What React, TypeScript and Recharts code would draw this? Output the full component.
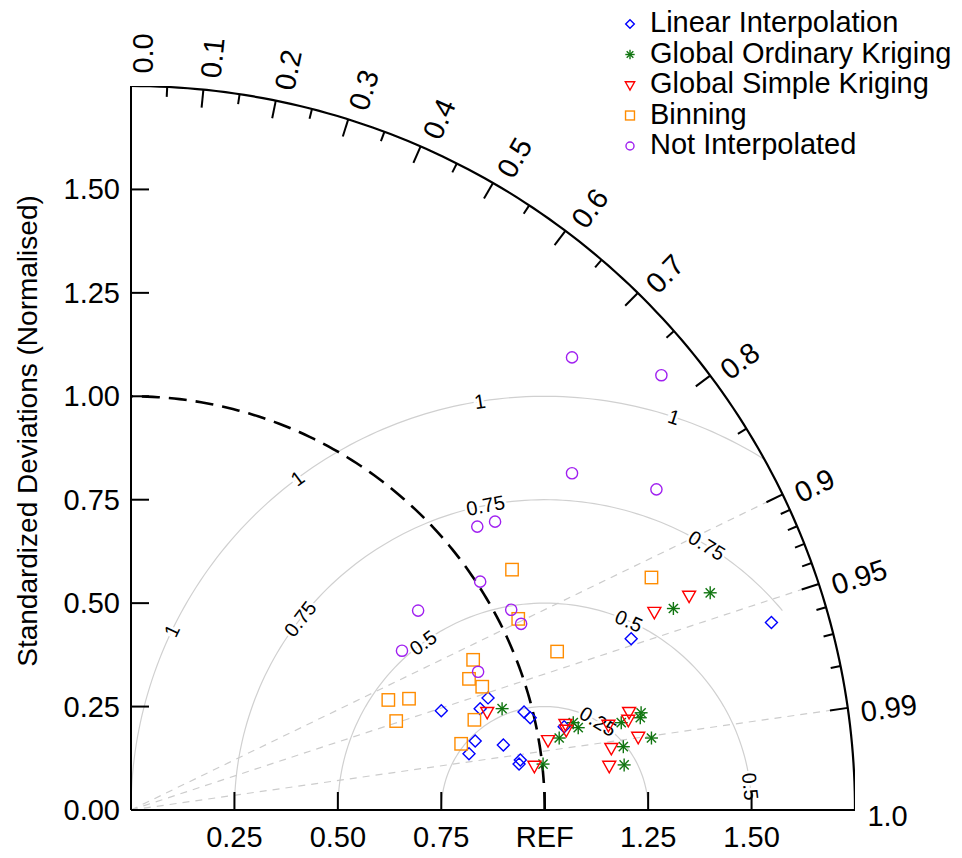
import React from 'react'
import {
  ComposedChart, Scatter, Line, XAxis, YAxis, ReferenceLine, ReferenceDot, Legend,
} from 'recharts'

const FONT = "'Liberation Sans', Arial, Helvetica, sans-serif"
const MAX_SD = 1.75
const PX = 724 / MAX_SD // pixels per unit, used only for tick lengths

// standardised deviation (x, y) pairs
const linearInterp = [
  [0.750, 0.240], [0.863, 0.271], [0.844, 0.245], [0.950, 0.237], [0.965, 0.223],
  [0.832, 0.167], [0.817, 0.136], [0.900, 0.157], [0.941, 0.121], [0.938, 0.111],
  [1.047, 0.201], [1.209, 0.414], [1.548, 0.453],
]
const ordinaryKriging = [
  [0.897, 0.245], [0.996, 0.111], [1.035, 0.174], [1.069, 0.211], [1.081, 0.199],
  [1.185, 0.211], [1.233, 0.235], [1.231, 0.223], [1.258, 0.174], [1.190, 0.153],
  [1.192, 0.109], [1.311, 0.487], [1.400, 0.525],
]
const simpleKriging = [
  [0.861, 0.237], [0.975, 0.107], [1.008, 0.169], [1.050, 0.208], [1.052, 0.194],
  [1.154, 0.206], [1.204, 0.237], [1.202, 0.218], [1.226, 0.177], [1.161, 0.150],
  [1.156, 0.107], [1.265, 0.479], [1.349, 0.518],
]
const binning = [
  [0.921, 0.581], [0.936, 0.462], [1.030, 0.383], [0.827, 0.363], [0.817, 0.317],
  [0.849, 0.298], [0.622, 0.266], [0.672, 0.269], [0.641, 0.215], [0.830, 0.218],
  [0.798, 0.160], [1.258, 0.562],
]
const notInterp = [
  [1.066, 1.094], [1.282, 1.051], [1.066, 0.814], [1.270, 0.775], [0.837, 0.685],
  [0.880, 0.697], [0.844, 0.552], [0.694, 0.482], [0.919, 0.484], [0.943, 0.450],
  [0.655, 0.385], [0.839, 0.334],
]

const seriesNames = ['Linear Interpolation', 'Global Ordinary Kriging', 'Global Simple Kriging', 'Binning', 'Not Interpolated']
const seriesData = [linearInterp, ordinaryKriging, simpleKriging, binning, notInterp]
const seriesColors = ['#0000ff', '#107510', '#ff0000', '#ff8c00', '#a020f0']
const seriesMarkers = ['diamond', 'star', 'tri', 'square', 'circle']

const sdTicks = [0, 0.25, 0.5, 0.75, 1, 1.25, 1.5]
const xTicks = [0.25, 0.5, 0.75, 1, 1.25, 1.5]
const corrLabelValues = [0, 0.1, 0.2, 0.3, 0.4, 0.5, 0.6, 0.7, 0.8, 0.9, 0.95, 0.99, 1]
const corrLabelText = ['0.0', '0.1', '0.2', '0.3', '0.4', '0.5', '0.6', '0.7', '0.8', '0.9', '0.95', '0.99', '1.0']
const corrMajor = [0.1, 0.2, 0.3, 0.4, 0.5, 0.6, 0.7, 0.8, 0.9, 0.95, 0.99]
const corrMinor = [0.05, 0.15, 0.25, 0.35, 0.45, 0.55, 0.65, 0.75, 0.85, 0.91, 0.92, 0.93, 0.94, 0.96, 0.97, 0.98]
const corrLines = [0.9, 0.95, 0.99]
const rmsLevels = [0.25, 0.5, 0.75, 1]
const rmsStartDeg = [0, 0, 40, 58]
// contour labels: level and angle (deg) around the REF point
const rmsLabelLevel = [1, 1, 1, 1, 0.75, 0.75, 0.75, 0.5, 0.5, 0.5, 0.25]
const rmsLabelDeg = [154.3, 126.7, 99, 71.8, 142, 101, 58.5, 126, 66, 6.5, 59]

const rad = (d: number) => (d * Math.PI) / 180

// points along a circle arc centred at (cx, 0)
const arc = (cx: number, r: number, d0: number, d1: number) => {
  const pts: { x: number; y: number }[] = []
  for (let i = 0; i <= 120; i++) {
    const t = rad(d0 + ((d1 - d0) * i) / 120)
    pts.push({ x: cx + r * Math.cos(t), y: r * Math.sin(t) })
  }
  return pts
}

function Marker({ kind, cx, cy, color, s = 1 }: any) {
  const sw = 1.4
  if (kind === 'diamond') {
    const d = 6 * s
    return <path d={`M${cx},${cy - d}L${cx + d},${cy}L${cx},${cy + d}L${cx - d},${cy}Z`} fill="none" stroke={color} strokeWidth={sw} />
  }
  if (kind === 'star') {
    const d = 6.5 * s
    const e = d * 0.707
    return (
      <g stroke={color} strokeWidth={sw}>
        <line x1={cx} y1={cy - d} x2={cx} y2={cy + d} />
        <line x1={cx - d} y1={cy} x2={cx + d} y2={cy} />
        <line x1={cx - e} y1={cy - e} x2={cx + e} y2={cy + e} />
        <line x1={cx - e} y1={cy + e} x2={cx + e} y2={cy - e} />
      </g>
    )
  }
  if (kind === 'tri') {
    const w = 6.5 * s
    return <path d={`M${cx - w},${cy - 4.5 * s}L${cx + w},${cy - 4.5 * s}L${cx},${cy + 7 * s}Z`} fill="none" stroke={color} strokeWidth={sw} />
  }
  if (kind === 'square') {
    const d = 6.2 * s
    return <rect x={cx - d} y={cy - d} width={2 * d} height={2 * d} fill="none" stroke={color} strokeWidth={sw} />
  }
  return <circle cx={cx} cy={cy} r={5.6 * s} fill="none" stroke={color} strokeWidth={sw} />
}

const tangentDeg = (d: number) => {
  const t = rad(d)
  let a = (Math.atan2(-Math.cos(t), -Math.sin(t)) * 180) / Math.PI
  while (a > 90) a -= 180
  while (a < -90) a += 180
  return a
}

function LegendBox() {
  return (
    <svg width={350} height={160} style={{ display: 'block' }}>
      {seriesNames.map((n, i) => {
        const y = 22 + i * 30.5
        return (
          <g key={n}>
            <Marker kind={seriesMarkers[i]} cx={18} cy={y + 2} color={seriesColors[i]} s={0.72} />
            <text x={38} y={y} fontFamily={FONT} fontSize={29} dominantBaseline="central" fill="#000">{n}</text>
          </g>
        )
      })}
    </svg>
  )
}

export default function App() {
  const tickLine = (c: number, len: number, key: string) => {
    const s = Math.sqrt(1 - c * c)
    const r0 = MAX_SD - len / PX
    return (
      <ReferenceLine key={key} ifOverflow="visible" stroke="#000" strokeWidth={2}
        segment={[{ x: r0 * c, y: r0 * s }, { x: MAX_SD * c, y: MAX_SD * s }]} />
    )
  }

  return (
    <div style={{ position: 'absolute', left: 0, top: 0 }}>
      <ComposedChart width={962} height={858} margin={{ top: 86, right: 107, bottom: 47, left: 130 }}>
        <XAxis type="number" dataKey="x" domain={[0, MAX_SD]} ticks={xTicks} allowDataOverflow height={1}
          tickSize={0} tickMargin={0} axisLine={{ stroke: '#000', strokeWidth: 2 }} tickLine={false} interval={0}
          tick={(p: any) => (
            <g>
              <line x1={p.x} x2={p.x} y1={p.y} y2={p.y - 18} stroke="#000" strokeWidth={2} />
              <text x={p.x} y={p.y + 27} textAnchor="middle" dominantBaseline="central" fontFamily={FONT} fontSize={29} fill="#000">
                {p.payload.value === 1 ? 'REF' : p.payload.value.toFixed(2)}
              </text>
            </g>
          )} />
        <YAxis type="number" dataKey="y" domain={[0, MAX_SD]} ticks={sdTicks} allowDataOverflow width={1}
          tickSize={0} tickMargin={0} axisLine={{ stroke: '#000', strokeWidth: 2 }} tickLine={false} interval={0}
          tick={(p: any) => (
            <g>
              <line x1={p.x} x2={p.x + 18} y1={p.y} y2={p.y} stroke="#000" strokeWidth={2} />
              <text x={p.x - 11} y={p.y} textAnchor="end" dominantBaseline="central" fontFamily={FONT} fontSize={29} fill="#000">
                {p.payload.value.toFixed(2)}
              </text>
            </g>
          )}
          label={(p: any) => {
            const vb = p.viewBox || { x: 130, y: 86, width: 1, height: 724 }
            const x = vb.x - 103
            const y = vb.y + vb.height / 2 - 17
            return (
              <text x={x} y={y} transform={`rotate(-90 ${x} ${y})`} textAnchor="middle" dominantBaseline="central"
                fontFamily={FONT} fontSize={28} fill="#000">Standardized Deviations (Normalised)</text>
            )
          }} />

        {rmsLevels.map((r, i) => (
          <Line key={`rms${r}`} data={arc(1, r, rmsStartDeg[i], 180)} dataKey="y" type="linear" dot={false}
            stroke="#d0d0d0" strokeWidth={1.2} isAnimationActive={false} activeDot={false} />
        ))}
        {corrLines.map(c => (
          <ReferenceLine key={`cl${c}`} ifOverflow="visible" stroke="#cccccc" strokeWidth={1.2} strokeDasharray="7 6"
            segment={[{ x: 0, y: 0 }, { x: MAX_SD * c, y: MAX_SD * Math.sqrt(1 - c * c) }]} />
        ))}
        <Line data={arc(0, 1, 0, 90)} dataKey="y" type="linear" dot={false} stroke="#000" strokeWidth={2.6}
          strokeDasharray="18 9" isAnimationActive={false} activeDot={false} />
        <Line data={arc(0, MAX_SD, 0, 90)} dataKey="y" type="linear" dot={false} stroke="#000" strokeWidth={2.2}
          isAnimationActive={false} activeDot={false} />

        {corrMajor.map(c => tickLine(c, 18, `mj${c}`))}
        {corrMinor.map(c => tickLine(c, 10, `mn${c}`))}

        {corrLabelValues.map((c, i) => {
          const r = 1.78
          const deg = (Math.acos(c) * 180) / Math.PI
          return (
            <ReferenceDot key={`lab${c}`} x={r * c} y={r * Math.sqrt(1 - c * c)} ifOverflow="visible"
              shape={(p: any) => (
                <text x={p.cx} y={p.cy} dy={c === 0 ? 12 : 6} transform={`rotate(${-deg} ${p.cx} ${p.cy})`} textAnchor="start"
                  dominantBaseline="central" fontFamily={FONT} fontSize={29} fill="#000">{corrLabelText[i]}</text>
              )} />
          )
        })}

        {rmsLabelLevel.map((r, i) => {
          const t = rad(rmsLabelDeg[i])
          const ang = tangentDeg(rmsLabelDeg[i])
          return (
            <ReferenceDot key={`rl${i}`} x={1 + r * Math.cos(t)} y={r * Math.sin(t)} ifOverflow="visible"
              shape={(p: any) => (
                <text x={p.cx} y={p.cy} transform={`rotate(${ang} ${p.cx} ${p.cy})`} textAnchor="middle"
                  dominantBaseline="central" fontFamily={FONT} fontSize={20} fill="#000"
                  stroke="#fff" strokeWidth={5} paintOrder="stroke">{String(r)}</text>
              )} />
          )
        })}

        {seriesData.map((d, i) => (
          <Scatter key={seriesNames[i]} name={seriesNames[i]} data={d.map(([x, y]) => ({ x, y }))} dataKey="y"
            isAnimationActive={false}
            shape={(p: any) => <Marker kind={seriesMarkers[i]} cx={p.cx} cy={p.cy} color={seriesColors[i]} />} />
        ))}

        <Legend layout="horizontal" verticalAlign="middle" align="center"
          wrapperStyle={{ position: 'absolute', top: 0, left: 612, width: 350, height: 160 }}
          content={() => <LegendBox />} />
      </ComposedChart>
    </div>
  )
}
